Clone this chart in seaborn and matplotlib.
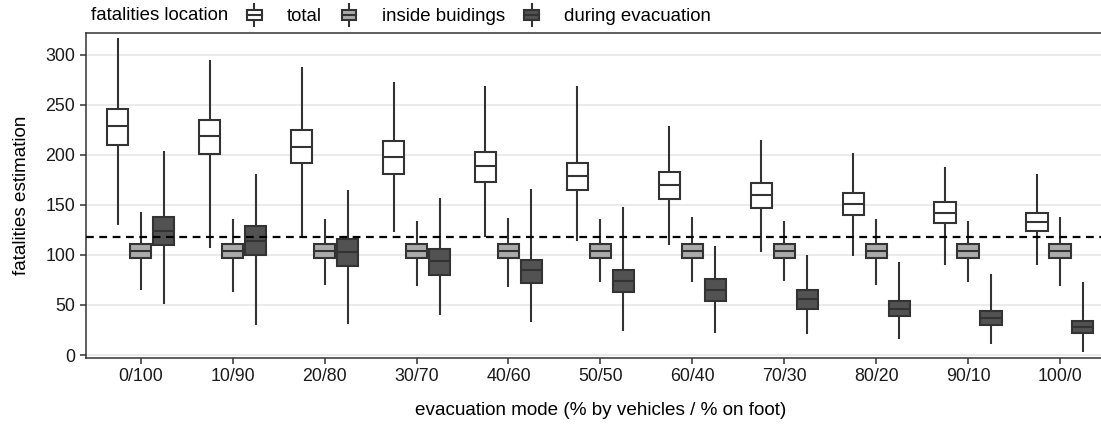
import matplotlib
matplotlib.use("Agg")
import matplotlib.pyplot as plt
from matplotlib.legend_handler import HandlerBase
from matplotlib.patches import Patch, Rectangle
from matplotlib.lines import Line2D
import seaborn as sns
import pandas as pd

# evacuation modes (% by vehicles / % on foot)
modes = ["0/100", "10/90", "20/80", "30/70", "40/60", "50/50",
         "60/40", "70/30", "80/20", "90/10", "100/0"]
locations = ["total", "inside buidings", "during evacuation"]

# five-number summaries: low whisker, q1, median, q3, high whisker
total_lo = [130, 107, 118, 123, 118, 114, 110, 103, 99, 90, 90]
total_q1 = [210, 201, 192, 181, 173, 165, 156, 147, 140, 132, 124]
total_med = [229, 219, 208, 198, 189, 179, 170, 160, 151, 142, 133]
total_q3 = [246, 235, 225, 214, 203, 192, 183, 172, 162, 153, 142]
total_hi = [317, 295, 288, 273, 269, 269, 229, 215, 202, 188, 181]

inside_lo = [65, 63, 70, 69, 68, 73, 73, 74, 70, 73, 69]
inside_q1 = [97, 97, 97, 97, 97, 97, 97, 97, 97, 97, 97]
inside_med = [104, 104, 104, 104, 104, 104, 104, 104, 104, 104, 104]
inside_q3 = [111, 111, 111, 111, 111, 111, 111, 111, 111, 111, 111]
inside_hi = [143, 136, 136, 134, 137, 136, 138, 134, 136, 134, 138]

evac_lo = [51, 30, 31, 40, 33, 24, 22, 21, 16, 11, 3]
evac_q1 = [110, 100, 89, 80, 72, 63, 54, 46, 39, 30, 22]
evac_med = [124, 114, 103, 94, 85, 74, 65, 56, 46, 37, 28]
evac_q3 = [138, 129, 116, 106, 95, 85, 76, 65, 54, 44, 34]
evac_hi = [204, 181, 165, 157, 166, 148, 109, 100, 93, 81, 73]

threshold = 118

fill_colors = ["#FFFFFF", "#ABABAB", "#525252"]
line_col = "#333333"
fs = 12.8       # tick labels
fs_title = 13.6  # axis titles
fs_leg = 13.4    # legend

summaries = {
    "total": [total_lo, total_q1, total_med, total_q3, total_hi],
    "inside buidings": [inside_lo, inside_q1, inside_med, inside_q3, inside_hi],
    "during evacuation": [evac_lo, evac_q1, evac_med, evac_q3, evac_hi],
}
rows = []
for loc in locations:
    for i, m in enumerate(modes):
        for stat in summaries[loc]:
            rows.append({"mode": m, "location": loc, "value": stat[i]})
df = pd.DataFrame(rows)

plt.rcParams["font.family"] = ["Liberation Sans", "DejaVu Sans"]

fig = plt.figure(figsize=(11.01, 4.26), dpi=100)
ax = fig.add_axes([0.0778, 0.1596, 0.935, 0.7636])

sns.boxplot(data=df, x="mode", y="value", hue="location", order=modes,
            hue_order=locations, palette=fill_colors, whis=(0, 100),
            width=0.75, gap=0.08, linecolor=line_col, linewidth=1.5,
            showfliers=False, showcaps=False, saturation=1, legend=False, ax=ax)

ax.axhline(threshold, color="black", linewidth=1.6, linestyle=(0, (3.5, 2.5)), zorder=5)

ax.set_xlim(-0.6, 10.6)
ax.set_ylim(-3, 322)
ax.set_yticks([0, 50, 100, 150, 200, 250, 300])
ax.yaxis.grid(True, color="#EBEBEB", linewidth=1.4)
ax.xaxis.grid(False)
ax.set_axisbelow(True)
for side in ["left", "top", "bottom"]:
    ax.spines[side].set_color(line_col)
    ax.spines[side].set_linewidth(1.1)
ax.spines["right"].set_visible(False)
ax.tick_params(colors=line_col, labelcolor="#1a1a1a", labelsize=fs,
               length=4.5, width=1.1, pad=3)
ax.set_xlabel("evacuation mode (% by vehicles / % on foot)", fontsize=fs_title, labelpad=12)
ax.set_ylabel("fatalities estimation", fontsize=fs_title, labelpad=11)


class BoxHandler(HandlerBase):
    def create_artists(self, legend, orig_handle, xdescent, ydescent,
                       width, height, fontsize, trans):
        x0, y0 = -xdescent, -ydescent
        fc = orig_handle.get_facecolor()
        box = Rectangle((x0, y0 + 0.2 * height), width, 0.6 * height,
                        facecolor=fc, edgecolor=line_col, linewidth=1.5, transform=trans)
        med = Line2D([x0, x0 + width], [y0 + 0.5 * height] * 2,
                     color=line_col, linewidth=1.5, transform=trans)
        w1 = Line2D([x0 + width / 2] * 2, [y0 - 0.15 * height, y0 + 0.2 * height],
                    color=line_col, linewidth=1.5, transform=trans)
        w2 = Line2D([x0 + width / 2] * 2, [y0 + 0.8 * height, y0 + 1.15 * height],
                    color=line_col, linewidth=1.5, transform=trans)
        return [w1, w2, box, med]


handles = [Patch(facecolor=c) for c in fill_colors]
fig.text(91 / 1101, 1 - 16 / 426, "fatalities location", fontsize=fs_leg,
         ha="left", va="center")
fig.legend(handles, locations, handler_map={Patch: BoxHandler()},
           loc="center left", bbox_to_anchor=(247 / 1101, 1 - 16 / 426),
           ncol=3, frameon=False, fontsize=fs_leg, borderpad=0, borderaxespad=0,
           handlelength=0.8, handleheight=1.0, handletextpad=1.35,
           columnspacing=1.05)

fig.savefig("out.png", dpi=100)
